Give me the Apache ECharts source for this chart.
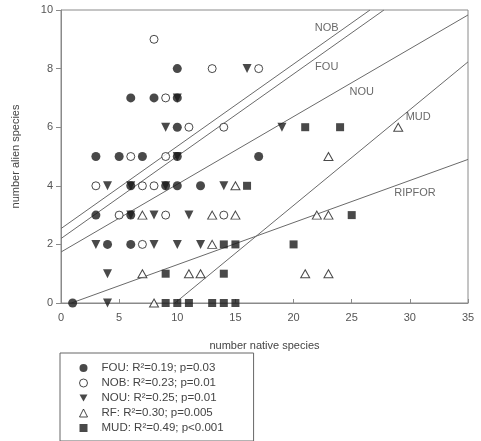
<!DOCTYPE html>
<html>
<head>
<meta charset="utf-8">
<script src="https://cdn.jsdelivr.net/npm/echarts@6/dist/echarts.min.js"></script>
<style>
  html, body { margin: 0; padding: 0; background: #fff; }
  #chart { width: 481px; height: 441px; }
</style>
</head>
<body>
<div id="chart"></div>
<script>
// points: [native, alien]
const fou = [[1, 0], [3, 3], [3, 5], [4, 2], [5, 5], [6, 2], [6, 3], [6, 4], [6, 7], [7, 5],
             [8, 7], [9, 4], [10, 4], [10, 5], [10, 6], [10, 7], [10, 8], [12, 4], [17, 5]];
const nob = [[3, 4], [5, 3], [6, 5], [7, 2], [7, 4], [8, 4], [8, 9], [9, 3], [9, 5], [9, 7],
             [11, 6], [13, 8], [14, 3], [14, 6], [17, 8]];
const nou = [[3, 2], [4, 0], [4, 1], [4, 4], [6, 3], [6, 4], [8, 2], [8, 3], [9, 4], [9, 6],
             [10, 2], [10, 5], [10, 7], [11, 3], [12, 2], [14, 4], [16, 8], [19, 6]];
const rf = [[7, 1], [7, 3], [8, 0], [11, 1], [12, 1], [13, 2], [13, 3], [15, 3], [15, 4],
            [21, 1], [22, 3], [23, 1], [23, 3], [23, 5], [29, 6]];
const mud = [[9, 0], [9, 1], [10, 0], [11, 0], [13, 0], [14, 0], [14, 1], [14, 2], [15, 0],
             [15, 2], [16, 4], [20, 2], [21, 6], [24, 6], [25, 3]];

// fitted lines, end points
const lineNOB = [[0, 2.54], [26.57, 10]];
const lineFOU = [[0, 2.2], [27.77, 10]];
const lineNOU = [[0, 1.74], [35, 9.83]];
const lineMUD = [[9.8, 0], [35, 8.23]];
const lineRIPFOR = [[0.9, 0], [35, 4.9]];

const lineNames = ['NOB', 'FOU', 'NOU', 'MUD', 'RIPFOR'];
const lineLabelPos = [[22.85, 9.37], [22.85, 8.06], [25.86, 7.21], [30.72, 6.35], [30.44, 3.77]];

const legendNames = [
  'FOU: R²=0.19; p=0.03',
  'NOB: R²=0.23; p=0.01',
  'NOU: R²=0.25; p=0.01',
  'RF: R²=0.30; p=0.005',
  'MUD: R²=0.49; p<0.001'
];

const font = 'Liberation Sans, Arial, sans-serif';
const ink = '#1c1c1c';
const grey = '#8a8a8a';
const downTri = 'path://M0,0 L10,0 L5,9 Z';

function fitLine(data) {
  return {
    type: 'line',
    data: data,
    symbol: 'none',
    silent: true,
    lineStyle: { color: '#6a6a6a', width: 1 },
    z: 1
  };
}

const chart = echarts.init(document.getElementById('chart'));
chart.setOption({
  animation: false,
  textStyle: { fontFamily: font },
  grid: {
    left: 61, right: 13, top: 10, bottom: 138,
    show: true, borderColor: grey, borderWidth: 1
  },
  xAxis: {
    type: 'value', min: 0, max: 35, interval: 5,
    name: 'number native species', nameLocation: 'middle', nameGap: 37,
    nameTextStyle: { fontSize: 11, color: '#444', fontFamily: font },
    axisLine: { lineStyle: { color: grey } },
    axisTick: { inside: true, length: 4, lineStyle: { color: grey } },
    axisLabel: { fontSize: 11, color: '#555', margin: 9 },
    splitLine: { show: false }
  },
  yAxis: {
    type: 'value', min: 0, max: 10, interval: 2,
    name: 'number alien species', nameLocation: 'middle', nameGap: 40,
    nameTextStyle: { fontSize: 11, color: '#444', fontFamily: font },
    axisLine: { show: true, lineStyle: { color: grey } },
    axisTick: { show: true, length: 5, lineStyle: { color: grey } },
    axisLabel: { fontSize: 11, color: '#555', margin: 8 },
    splitLine: { show: false }
  },
  legend: {
    orient: 'vertical', left: 60, top: 353,
    data: legendNames,
    borderColor: '#666', borderWidth: 1,
    padding: [9, 30, 7, 19],
    itemGap: 3, itemWidth: 8, itemHeight: 8,
    itemStyle: { borderWidth: 1 },
    textStyle: { fontSize: 11.5, color: '#444', fontFamily: font, padding: [0, 0, 0, 9] }
  },
  series: [
    fitLine(lineNOB), fitLine(lineFOU), fitLine(lineNOU), fitLine(lineMUD), fitLine(lineRIPFOR),
    {
      type: 'scatter', silent: true, symbolSize: 0,
      data: lineLabelPos.map((p, i) => ({ value: p, name: lineNames[i] })),
      label: { show: true, position: 'inside', formatter: '{b}', fontSize: 11, color: '#444' },
      z: 5
    },
    {
      name: legendNames[0], type: 'scatter', data: fou, symbol: 'circle', symbolSize: 9,
      itemStyle: { color: ink }, z: 3
    },
    {
      name: legendNames[1], type: 'scatter', data: nob, symbol: 'circle', symbolSize: 8,
      itemStyle: { color: '#fff', borderColor: ink, borderWidth: 1 }, z: 3
    },
    {
      name: legendNames[2], type: 'scatter', data: nou, symbol: downTri, symbolSize: [9, 9],
      itemStyle: { color: ink }, z: 4
    },
    {
      name: legendNames[3], type: 'scatter', data: rf, symbol: 'triangle', symbolSize: [9, 8],
      itemStyle: { color: '#fff', borderColor: ink, borderWidth: 1 }, z: 3
    },
    {
      name: legendNames[4], type: 'scatter', data: mud, symbol: 'rect', symbolSize: 8,
      itemStyle: { color: ink }, z: 3
    }
  ]
});
</script>
</body>
</html>
